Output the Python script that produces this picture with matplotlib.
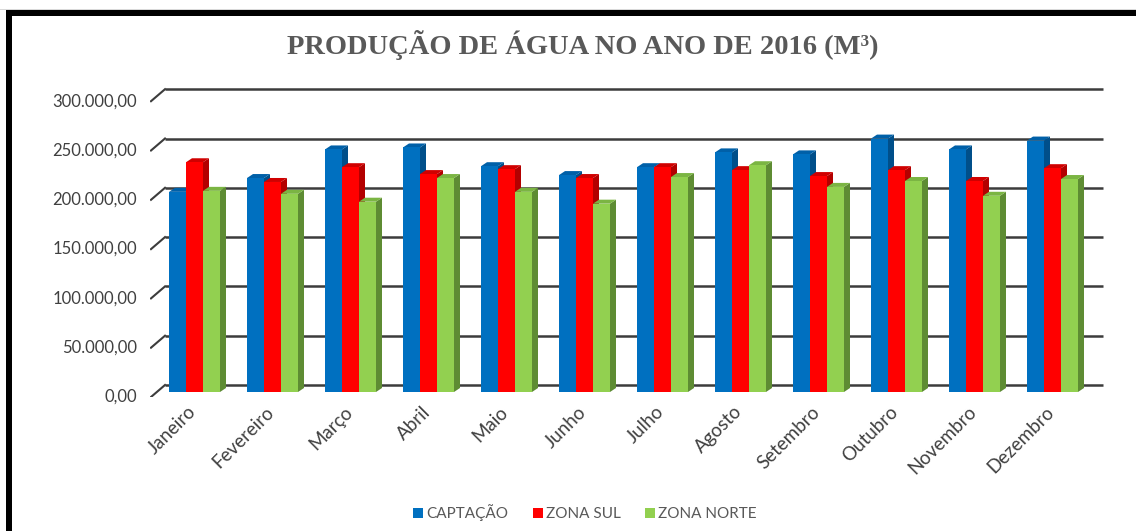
import matplotlib
matplotlib.use("Agg")
import matplotlib.pyplot as plt
from matplotlib.patches import Polygon, Rectangle, Patch

months = ["Janeiro", "Fevereiro", "Março", "Abril", "Maio", "Junho", "Julho",
          "Agosto", "Setembro", "Outubro", "Novembro", "Dezembro"]
captacao = [203000, 217000, 246000, 248000, 229000, 220000, 228000, 243000, 241000, 257000, 246000, 255000]
zona_sul = [233000, 213000, 228000, 221000, 226000, 217000, 228000, 225000, 219000, 225000, 214000, 227000]
zona_norte = [204000, 201000, 193000, 217000, 203000, 191000, 218000, 230000, 208000, 214000, 199000, 216000]
series_names = ["CAPTAÇÃO", "ZONA SUL", "ZONA NORTE"]
y_ticks = [0, 50000, 100000, 150000, 200000, 250000, 300000]

def fmt(v):
    s = f"{v:,.2f}"
    return s.replace(",", "X").replace(".", ",").replace("X", ".")

W, H = 1136, 531
fig = plt.figure(figsize=(W / 100, H / 100), dpi=100)
fig.patch.set_facecolor("white")

# pixel geometry
L_px, R_px, B_px, T_px = 150, 1110, 397, 85
ax = fig.add_axes([L_px / W, 1 - B_px / H, (R_px - L_px) / W, (B_px - T_px) / H])
ax.axis("off")
X0_px, STEP_px = 194.5, 78.0
Y0_px, PXV = 392.0, 1014.2   # bar plane zero pixel, value per pixel
ax.set_xlim((L_px - X0_px) / STEP_px, (R_px - X0_px) / STEP_px)
ax.set_ylim(-(B_px - Y0_px) * PXV, (Y0_px - T_px) * PXV)

def px_dx(p):
    return p / STEP_px

grid_col = "#3c3c3c"
back_x0 = (165 - X0_px) / STEP_px
back_x1 = (1103 - X0_px) / STEP_px
front_x = (151 - X0_px) / STEP_px
for v in y_ticks:
    yb = v + 7 * PXV
    yf = v - 5 * PXV
    ax.plot([back_x0, back_x1], [yb, yb], color=grid_col, lw=1.8, zorder=1, solid_capstyle="butt")
    ax.plot([front_x, back_x0], [yf, yb], color=grid_col, lw=1.5, zorder=1)
    ax.text((137 - X0_px) / STEP_px, yf, fmt(v), ha="right", va="center",
            fontsize=12, family="Lato", color="#404040", clip_on=False)

colors = ["#0070C0", "#FF0000", "#92D050"]
side_cols = ["#004F8A", "#B30000", "#5E8C33"]
top_cols = ["#0060A8", "#D00000", "#7BB543"]
bw = px_dx(17)
ddx = px_dx(6)
ddy = 4 * PXV
data = [captacao, zona_sul, zona_norte]
for i in range(len(months)):
    for k, vals in enumerate(data):
        v = vals[i]
        x0 = i + (k - 1) * bw - bw / 2
        x1 = x0 + bw
        z = 3 + k
        ax.bar(x0, v, width=bw, align="edge", color=colors[k], zorder=z, linewidth=0)
        ax.add_patch(Polygon([(x1, 0), (x1 + ddx, ddy), (x1 + ddx, v + ddy), (x1, v)],
                             closed=True, facecolor=side_cols[k], edgecolor="none", zorder=z - 0.5))
        ax.add_patch(Polygon([(x0, v), (x0 + ddx, v + ddy), (x1 + ddx, v + ddy), (x1, v)],
                             closed=True, facecolor=top_cols[k], edgecolor="none", zorder=z - 0.5))

for i, m in enumerate(months):
    ax.text(i - px_dx(7), -11 * PXV, m, rotation=45, ha="right", va="top",
            rotation_mode="anchor", fontsize=13.5, family="Lato", color="#404040", clip_on=False)

handles = [Patch(facecolor=c, edgecolor="none") for c in colors]
leg = fig.legend(handles, series_names, loc="center", bbox_to_anchor=(585 / W, 1 - 513 / H),
                 ncol=3, frameon=False, handlelength=0.65, handleheight=0.65,
                 handletextpad=0.2, columnspacing=1.6, prop={"family": "Lato", "size": 11})
for t in leg.get_texts():
    t.set_color("#595959")

fig.text(583 / W, 1 - 45 / H, "PRODUÇÃO DE ÁGUA NO ANO DE 2016 (M³)", ha="center", va="center",
         fontsize=20.5, family="Liberation Serif", fontweight="bold", color="#595959")

# frame
fig.patches.append(Rectangle((6 / W, 1 - 16 / H), (W - 6) / W, 6 / H, transform=fig.transFigure,
                             facecolor="black", edgecolor="none"))
fig.patches.append(Rectangle((6 / W, 0), 6 / W, 1 - 10 / H, transform=fig.transFigure,
                             facecolor="black", edgecolor="none"))
fig.patches.append(Rectangle((0, 1 - 10 / H), 1, 1 / H, transform=fig.transFigure,
                             facecolor="#d9d9d9", edgecolor="none"))

fig.savefig("out.png", dpi=100)
